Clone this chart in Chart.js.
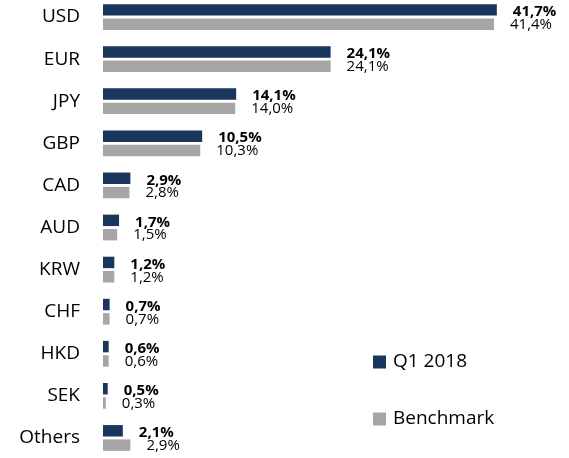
<!DOCTYPE html>
<html>
<head>
<meta charset="utf-8">
<script src="https://cdn.jsdelivr.net/npm/chart.js@4.4.1/dist/chart.umd.min.js"></script>
<style>
    html, body { margin: 0; padding: 0; background: #fff; overflow: hidden; }
    #wrap { position: relative; width: 569px; height: 458px; }
    #chartDevises { position: absolute; left: 0; top: -4px; }
</style>
</head>
<body>
<div id="wrap">
    <canvas id="chartDevises" width="569" height="463"></canvas>
</div>
<script>
// Données
const devises = ['USD', 'EUR', 'JPY', 'GBP', 'CAD', 'AUD', 'KRW', 'CHF', 'HKD', 'SEK', 'Others'];
const valeursQ1 = [41.7, 24.1, 14.1, 10.5, 2.9, 1.7, 1.2, 0.7, 0.6, 0.5, 2.1];
const valeursBenchmark = [41.4, 24.1, 14.0, 10.3, 2.8, 1.5, 1.2, 0.7, 0.6, 0.3, 2.9];
const nomsSeries = ['Q1 2018', 'Benchmark'];

const couleurQ1 = '#1b365d';
const couleurBenchmark = '#a6a6a6';
const police = "'Open Sans', 'DejaVu Sans', sans-serif";

function formatPct(v) {
    return v.toFixed(1).replace('.', ',') + '%';
}

// Étiquettes de valeurs à droite des barres
const etiquettesPlugin = {
    id: 'etiquettes',
    afterDatasetsDraw(chart) {
        const ctx = chart.ctx;
        ctx.save();
        ctx.textAlign = 'left';
        ctx.textBaseline = 'middle';
        ctx.fillStyle = '#000';
        chart.data.datasets.forEach((ds, i) => {
            const meta = chart.getDatasetMeta(i);
            ctx.font = (i === 0 ? 'bold ' : '') + '15px ' + police;
            meta.data.forEach((bar, j) => {
                ctx.fillText(formatPct(ds.data[j]), bar.x + 16, bar.y + (i === 0 ? 2 : 0.5));
            });
        });
        ctx.restore();
    }
};

// Légende dans le coin inférieur droit
const legendePlugin = {
    id: 'legende',
    afterDraw(chart) {
        const ctx = chart.ctx;
        const x = 373;
        const ys = [366, 423];
        ctx.save();
        ctx.font = '19px ' + police;
        ctx.textAlign = 'left';
        ctx.textBaseline = 'middle';
        chart.data.datasets.forEach((ds, i) => {
            ctx.fillStyle = ds.backgroundColor;
            ctx.fillRect(x, ys[i] - 6.5, 13, 13);
            ctx.fillStyle = '#000';
            ctx.fillText(ds.label, x + 20, ys[i]);
        });
        ctx.restore();
    }
};

const canvas = document.getElementById('chartDevises');

new Chart(canvas, {
    type: 'bar',
    data: {
        labels: devises,
        datasets: [{
            label: nomsSeries[0],
            data: valeursQ1,
            backgroundColor: couleurQ1,
            categoryPercentage: 0.68,
            barPercentage: 0.8
        }, {
            label: nomsSeries[1],
            data: valeursBenchmark,
            backgroundColor: couleurBenchmark,
            categoryPercentage: 0.68,
            barPercentage: 0.8
        }]
    },
    options: {
        indexAxis: 'y',
        responsive: false,
        animation: false,
        layout: { padding: { left: 0, right: 41, top: 0, bottom: 0 } },
        plugins: {
            legend: { display: false },
            tooltip: { enabled: false }
        },
        scales: {
            x: {
                display: false,
                min: 0,
                max: 45
            },
            y: {
                grid: { display: false, drawTicks: false, tickLength: 0 },
                border: { display: false },
                ticks: {
                    color: '#000',
                    padding: 23,
                    font: { family: police, size: 19 }
                },
                afterFit(scale) {
                    // largeur fixe de l'axe, pas de marge verticale
                    scale.width = 103;
                    scale.paddingTop = 0;
                    scale.paddingBottom = 0;
                }
            }
        }
    },
    plugins: [etiquettesPlugin, legendePlugin]
});
</script>
</body>
</html>
